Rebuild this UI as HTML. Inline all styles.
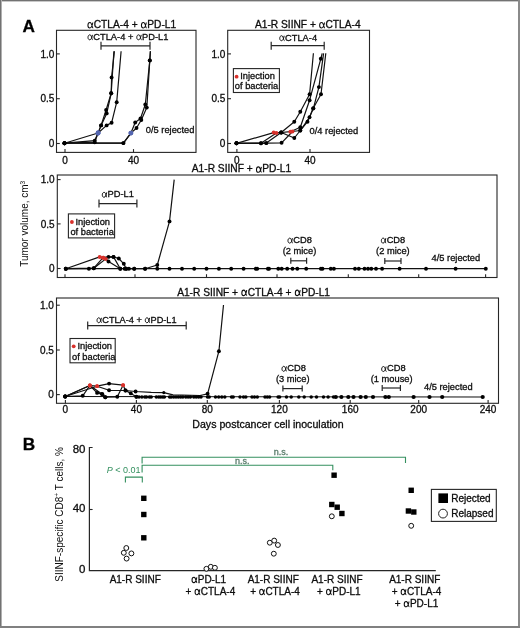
<!DOCTYPE html>
<html><head><meta charset="utf-8"><style>
html,body{margin:0;padding:0;background:#fff;}
svg{display:block;will-change:transform;}
text{font-family:"Liberation Sans", sans-serif;}
</style></head><body>
<svg width="520" height="628" viewBox="0 0 520 628" font-family='"Liberation Sans", sans-serif'>
<rect x="0" y="0" width="520" height="628" fill="#fff"/>
<text x="22.4" y="32.2" font-size="17.2" text-anchor="start" fill="#000" stroke="#000" stroke-width="0.3" font-weight="bold">A</text>
<text x="22.8" y="449.8" font-size="17.2" text-anchor="start" fill="#000" stroke="#000" stroke-width="0.3" font-weight="bold">B</text>
<rect x="56.5" y="30.3" width="139.5" height="122.10000000000001" fill="none" stroke="#262626" stroke-width="1.1"/>
<line x1="56.5" y1="53.9" x2="59.8" y2="53.9" stroke="#262626" stroke-width="1.1"/>
<text x="54.3" y="57.5" font-size="10" text-anchor="end" fill="#0d0d0d" stroke="#0d0d0d" stroke-width="0.3" >1.0</text>
<line x1="56.5" y1="98.7" x2="59.8" y2="98.7" stroke="#262626" stroke-width="1.1"/>
<text x="54.3" y="102.3" font-size="10" text-anchor="end" fill="#0d0d0d" stroke="#0d0d0d" stroke-width="0.3" >0.5</text>
<line x1="56.5" y1="143.5" x2="59.8" y2="143.5" stroke="#262626" stroke-width="1.1"/>
<text x="54.3" y="147.1" font-size="10" text-anchor="end" fill="#0d0d0d" stroke="#0d0d0d" stroke-width="0.3" >0</text>
<line x1="65" y1="149.1" x2="65" y2="152.4" stroke="#262626" stroke-width="1.1"/>
<text x="65" y="163.7" font-size="10" text-anchor="middle" fill="#0d0d0d" stroke="#0d0d0d" stroke-width="0.3" >0</text>
<line x1="133.5" y1="149.1" x2="133.5" y2="152.4" stroke="#262626" stroke-width="1.1"/>
<text x="133.5" y="163.7" font-size="10" text-anchor="middle" fill="#0d0d0d" stroke="#0d0d0d" stroke-width="0.3" >40</text>
<path transform="translate(87.33,27.8) scale(10.2)" d="M0.5385,-0.52 C0.4863,-0.22 0.3993,0.012 0.2427,0.012 C0.1209,0.012 0.06,-0.11 0.06,-0.25 C0.06,-0.4 0.1383,-0.525 0.2601,-0.525 C0.3993,-0.525 0.4428,-0.3 0.4863,-0.1 C0.5037,-0.03 0.5298,0.005 0.5733,0.005" fill="none" stroke="#0d0d0d" stroke-width="0.105"/>
<text x="93.76" y="27.8" font-size="10.2" fill="#0d0d0d" stroke="#0d0d0d" stroke-width="0.3" xml:space="preserve">CTLA-4 + </text>
<path transform="translate(140.83,27.8) scale(10.2)" d="M0.5385,-0.52 C0.4863,-0.22 0.3993,0.012 0.2427,0.012 C0.1209,0.012 0.06,-0.11 0.06,-0.25 C0.06,-0.4 0.1383,-0.525 0.2601,-0.525 C0.3993,-0.525 0.4428,-0.3 0.4863,-0.1 C0.5037,-0.03 0.5298,0.005 0.5733,0.005" fill="none" stroke="#0d0d0d" stroke-width="0.105"/>
<text x="147.26" y="27.8" font-size="10.2" fill="#0d0d0d" stroke="#0d0d0d" stroke-width="0.3" xml:space="preserve">PD-L1</text>
<path transform="translate(87.44,39.7) scale(9.3)" d="M0.5385,-0.52 C0.4863,-0.22 0.3993,0.012 0.2427,0.012 C0.1209,0.012 0.06,-0.11 0.06,-0.25 C0.06,-0.4 0.1383,-0.525 0.2601,-0.525 C0.3993,-0.525 0.4428,-0.3 0.4863,-0.1 C0.5037,-0.03 0.5298,0.005 0.5733,0.005" fill="none" stroke="#0d0d0d" stroke-width="0.105"/>
<text x="93.30" y="39.7" font-size="9.3" fill="#0d0d0d" stroke="#0d0d0d" stroke-width="0.3" xml:space="preserve">CTLA-4 + </text>
<path transform="translate(136.22,39.7) scale(9.3)" d="M0.5385,-0.52 C0.4863,-0.22 0.3993,0.012 0.2427,0.012 C0.1209,0.012 0.06,-0.11 0.06,-0.25 C0.06,-0.4 0.1383,-0.525 0.2601,-0.525 C0.3993,-0.525 0.4428,-0.3 0.4863,-0.1 C0.5037,-0.03 0.5298,0.005 0.5733,0.005" fill="none" stroke="#0d0d0d" stroke-width="0.105"/>
<text x="142.08" y="39.7" font-size="9.3" fill="#0d0d0d" stroke="#0d0d0d" stroke-width="0.3" xml:space="preserve">PD-L1</text>
<line x1="101" y1="45.8" x2="150" y2="45.8" stroke="#262626" stroke-width="1.2"/>
<line x1="101" y1="41.8" x2="101" y2="49.8" stroke="#262626" stroke-width="1.2"/>
<line x1="150" y1="41.8" x2="150" y2="49.8" stroke="#262626" stroke-width="1.2"/>
<text x="145.8" y="132.6" font-size="9.3" text-anchor="start" fill="#0d0d0d" stroke="#0d0d0d" stroke-width="0.3" >0/5 rejected</text>
<polyline points="64.5,143.2 94.7,140.6 98.1,133 101.1,125.4 106.7,113.4 111.2,93.3 111.6,77.4 114.4,51.2" fill="none" stroke="#111" stroke-width="1.2" stroke-linejoin="round"/>
<polyline points="64.5,143.2 98.1,133 101.1,125.4 106.1,110 111.2,93.3 113.9,51.2" fill="none" stroke="#111" stroke-width="1.2" stroke-linejoin="round"/>
<polyline points="64.5,143.2 94.7,142.2 98.1,133 106.6,125.4 111.6,122.8 116.7,102.2 121.1,51.2" fill="none" stroke="#111" stroke-width="1.2" stroke-linejoin="round"/>
<polyline points="64.5,143.2 123.4,143.1 130.9,133.1 135.2,122.5 140.5,118.5 145.3,104.5 149.8,60.4 150.4,51.2" fill="none" stroke="#111" stroke-width="1.2" stroke-linejoin="round"/>
<polyline points="64.5,143.2 123.4,143.1 130.9,133.1 136.5,128 141.3,120 146.8,107.6 149.8,60.4 150.4,51.2" fill="none" stroke="#111" stroke-width="1.2" stroke-linejoin="round"/>
<circle cx="64.5" cy="143.2" r="1.95" fill="#000"/>
<circle cx="94.7" cy="140.6" r="1.95" fill="#000"/>
<circle cx="98.1" cy="133" r="2.4" fill="#5566b0"/>
<circle cx="101.1" cy="125.4" r="1.95" fill="#000"/>
<circle cx="106.7" cy="113.4" r="1.95" fill="#000"/>
<circle cx="111.2" cy="93.3" r="1.95" fill="#000"/>
<circle cx="111.6" cy="77.4" r="1.95" fill="#000"/>
<circle cx="64.5" cy="143.2" r="1.95" fill="#000"/>
<circle cx="98.1" cy="133" r="2.4" fill="#5566b0"/>
<circle cx="101.1" cy="125.4" r="1.95" fill="#000"/>
<circle cx="106.1" cy="110" r="1.95" fill="#000"/>
<circle cx="111.2" cy="93.3" r="1.95" fill="#000"/>
<circle cx="64.5" cy="143.2" r="1.95" fill="#000"/>
<circle cx="94.7" cy="142.2" r="1.95" fill="#000"/>
<circle cx="98.1" cy="133" r="2.4" fill="#5566b0"/>
<circle cx="106.6" cy="125.4" r="1.95" fill="#000"/>
<circle cx="111.6" cy="122.8" r="1.95" fill="#000"/>
<circle cx="116.7" cy="102.2" r="1.95" fill="#000"/>
<circle cx="64.5" cy="143.2" r="1.95" fill="#000"/>
<circle cx="123.4" cy="143.1" r="1.95" fill="#000"/>
<circle cx="130.9" cy="133.1" r="2.4" fill="#5566b0"/>
<circle cx="135.2" cy="122.5" r="1.95" fill="#000"/>
<circle cx="140.5" cy="118.5" r="1.95" fill="#000"/>
<circle cx="145.3" cy="104.5" r="1.95" fill="#000"/>
<circle cx="149.8" cy="60.4" r="1.95" fill="#000"/>
<circle cx="64.5" cy="143.2" r="1.95" fill="#000"/>
<circle cx="123.4" cy="143.1" r="1.95" fill="#000"/>
<circle cx="130.9" cy="133.1" r="2.4" fill="#5566b0"/>
<circle cx="136.5" cy="128" r="1.95" fill="#000"/>
<circle cx="141.3" cy="120" r="1.95" fill="#000"/>
<circle cx="146.8" cy="107.6" r="1.95" fill="#000"/>
<circle cx="149.8" cy="60.4" r="1.95" fill="#000"/>
<rect x="227.7" y="30.3" width="141.8" height="122.10000000000001" fill="none" stroke="#262626" stroke-width="1.1"/>
<line x1="227.7" y1="53.9" x2="231.0" y2="53.9" stroke="#262626" stroke-width="1.1"/>
<text x="225.4" y="57.5" font-size="10" text-anchor="end" fill="#0d0d0d" stroke="#0d0d0d" stroke-width="0.3" >1.0</text>
<line x1="227.7" y1="98.7" x2="231.0" y2="98.7" stroke="#262626" stroke-width="1.1"/>
<text x="225.4" y="102.3" font-size="10" text-anchor="end" fill="#0d0d0d" stroke="#0d0d0d" stroke-width="0.3" >0.5</text>
<line x1="227.7" y1="143.5" x2="231.0" y2="143.5" stroke="#262626" stroke-width="1.1"/>
<text x="225.4" y="147.1" font-size="10" text-anchor="end" fill="#0d0d0d" stroke="#0d0d0d" stroke-width="0.3" >0</text>
<line x1="236.9" y1="149.1" x2="236.9" y2="152.4" stroke="#262626" stroke-width="1.1"/>
<text x="236.9" y="163.7" font-size="10" text-anchor="middle" fill="#0d0d0d" stroke="#0d0d0d" stroke-width="0.3" >0</text>
<line x1="310" y1="149.1" x2="310" y2="152.4" stroke="#262626" stroke-width="1.1"/>
<text x="310" y="163.7" font-size="10" text-anchor="middle" fill="#0d0d0d" stroke="#0d0d0d" stroke-width="0.3" >40</text>
<text x="254.98" y="27.8" font-size="10.2" fill="#0d0d0d" stroke="#0d0d0d" stroke-width="0.3" xml:space="preserve">A1-R SIINF + </text>
<path transform="translate(319.05,27.8) scale(10.2)" d="M0.5385,-0.52 C0.4863,-0.22 0.3993,0.012 0.2427,0.012 C0.1209,0.012 0.06,-0.11 0.06,-0.25 C0.06,-0.4 0.1383,-0.525 0.2601,-0.525 C0.3993,-0.525 0.4428,-0.3 0.4863,-0.1 C0.5037,-0.03 0.5298,0.005 0.5733,0.005" fill="none" stroke="#0d0d0d" stroke-width="0.105"/>
<text x="325.48" y="27.8" font-size="10.2" fill="#0d0d0d" stroke="#0d0d0d" stroke-width="0.3" xml:space="preserve">CTLA-4</text>
<path transform="translate(279.19,40.6) scale(9.3)" d="M0.5385,-0.52 C0.4863,-0.22 0.3993,0.012 0.2427,0.012 C0.1209,0.012 0.06,-0.11 0.06,-0.25 C0.06,-0.4 0.1383,-0.525 0.2601,-0.525 C0.3993,-0.525 0.4428,-0.3 0.4863,-0.1 C0.5037,-0.03 0.5298,0.005 0.5733,0.005" fill="none" stroke="#0d0d0d" stroke-width="0.105"/>
<text x="285.05" y="40.6" font-size="9.3" fill="#0d0d0d" stroke="#0d0d0d" stroke-width="0.3" xml:space="preserve">CTLA-4</text>
<line x1="271.2" y1="45.7" x2="324.2" y2="45.7" stroke="#262626" stroke-width="1.2"/>
<line x1="271.2" y1="41.7" x2="271.2" y2="49.7" stroke="#262626" stroke-width="1.2"/>
<line x1="324.2" y1="41.7" x2="324.2" y2="49.7" stroke="#262626" stroke-width="1.2"/>
<text x="309.6" y="133.7" font-size="9.3" text-anchor="start" fill="#0d0d0d" stroke="#0d0d0d" stroke-width="0.3" >0/4 rejected</text>
<rect x="233.4" y="68.6" width="45.99999999999997" height="23.900000000000006" fill="none" stroke="#262626" stroke-width="1.1"/>
<circle cx="236.6" cy="76.7" r="1.9" fill="#d9312b"/>
<text x="240.2" y="79.0" font-size="9.3" text-anchor="start" fill="#0d0d0d" stroke="#0d0d0d" stroke-width="0.3" >Injection</text>
<text x="234.8" y="89.0" font-size="9.3" text-anchor="start" fill="#0d0d0d" stroke="#0d0d0d" stroke-width="0.3" >of bacteria</text>
<polyline points="236.5,143.3 273.7,132.6 281.2,132.5 294.3,121.7 300.3,111.7 309.6,94.2 313.4,53.3" fill="none" stroke="#111" stroke-width="1.2" stroke-linejoin="round"/>
<polyline points="236.5,143.3 261,143.3 266.3,143.1 281.2,132.5 290.4,131.7 300.3,127.3 309.6,100.2 320.8,58.8 322.2,53.3" fill="none" stroke="#111" stroke-width="1.2" stroke-linejoin="round"/>
<polyline points="236.5,143.3 266.3,143.1 281.6,142.8 292.5,131.5 300.3,130.5 307.5,121.7 313.4,108.3 318.9,87.1 323.6,53.3" fill="none" stroke="#111" stroke-width="1.2" stroke-linejoin="round"/>
<polyline points="236.5,143.3 261,143.3 276.4,133 281.2,132.5 294.3,138 300.3,130.5 309.5,117.3 313.1,108.5 321,94.2 325.8,53.3" fill="none" stroke="#111" stroke-width="1.2" stroke-linejoin="round"/>
<circle cx="236.5" cy="143.3" r="1.95" fill="#000"/>
<circle cx="273.7" cy="132.6" r="2.0" fill="#d9312b"/>
<circle cx="281.2" cy="132.5" r="1.95" fill="#000"/>
<circle cx="294.3" cy="121.7" r="1.95" fill="#000"/>
<circle cx="300.3" cy="111.7" r="1.95" fill="#000"/>
<circle cx="309.6" cy="94.2" r="1.95" fill="#000"/>
<circle cx="236.5" cy="143.3" r="1.95" fill="#000"/>
<circle cx="261" cy="143.3" r="1.95" fill="#000"/>
<circle cx="266.3" cy="143.1" r="1.95" fill="#000"/>
<circle cx="281.2" cy="132.5" r="1.95" fill="#000"/>
<circle cx="290.4" cy="131.7" r="2.0" fill="#d9312b"/>
<circle cx="300.3" cy="127.3" r="1.95" fill="#000"/>
<circle cx="309.6" cy="100.2" r="1.95" fill="#000"/>
<circle cx="320.8" cy="58.8" r="1.95" fill="#000"/>
<circle cx="236.5" cy="143.3" r="1.95" fill="#000"/>
<circle cx="266.3" cy="143.1" r="1.95" fill="#000"/>
<circle cx="281.6" cy="142.8" r="1.95" fill="#000"/>
<circle cx="292.5" cy="131.5" r="2.0" fill="#d9312b"/>
<circle cx="300.3" cy="130.5" r="1.95" fill="#000"/>
<circle cx="307.5" cy="121.7" r="1.95" fill="#000"/>
<circle cx="313.4" cy="108.3" r="1.95" fill="#000"/>
<circle cx="318.9" cy="87.1" r="1.95" fill="#000"/>
<circle cx="236.5" cy="143.3" r="1.95" fill="#000"/>
<circle cx="261" cy="143.3" r="1.95" fill="#000"/>
<circle cx="276.4" cy="133" r="2.0" fill="#d9312b"/>
<circle cx="281.2" cy="132.5" r="1.95" fill="#000"/>
<circle cx="294.3" cy="138" r="1.95" fill="#000"/>
<circle cx="300.3" cy="130.5" r="1.95" fill="#000"/>
<circle cx="309.5" cy="117.3" r="1.95" fill="#000"/>
<circle cx="313.1" cy="108.5" r="1.95" fill="#000"/>
<circle cx="321" cy="94.2" r="1.95" fill="#000"/>
<rect x="57.3" y="175" width="439.7" height="102.5" fill="none" stroke="#262626" stroke-width="1.1"/>
<line x1="57.3" y1="179.6" x2="60.6" y2="179.6" stroke="#262626" stroke-width="1.1"/>
<text x="54.6" y="183.2" font-size="10" text-anchor="end" fill="#0d0d0d" stroke="#0d0d0d" stroke-width="0.3" >1.0</text>
<line x1="57.3" y1="223.9" x2="60.6" y2="223.9" stroke="#262626" stroke-width="1.1"/>
<text x="54.6" y="227.5" font-size="10" text-anchor="end" fill="#0d0d0d" stroke="#0d0d0d" stroke-width="0.3" >0.5</text>
<line x1="57.3" y1="268.5" x2="60.6" y2="268.5" stroke="#262626" stroke-width="1.1"/>
<text x="54.6" y="272.1" font-size="10" text-anchor="end" fill="#0d0d0d" stroke="#0d0d0d" stroke-width="0.3" >0</text>
<line x1="65" y1="274.2" x2="65" y2="277.5" stroke="#262626" stroke-width="1.1"/>
<line x1="135" y1="274.2" x2="135" y2="277.5" stroke="#262626" stroke-width="1.1"/>
<line x1="206.5" y1="274.2" x2="206.5" y2="277.5" stroke="#262626" stroke-width="1.1"/>
<line x1="277" y1="274.2" x2="277" y2="277.5" stroke="#262626" stroke-width="1.1"/>
<line x1="348.3" y1="274.2" x2="348.3" y2="277.5" stroke="#262626" stroke-width="1.1"/>
<line x1="418.7" y1="274.2" x2="418.7" y2="277.5" stroke="#262626" stroke-width="1.1"/>
<line x1="485.6" y1="274.2" x2="485.6" y2="277.5" stroke="#262626" stroke-width="1.1"/>
<text x="191.80" y="172.2" font-size="10.2" fill="#0d0d0d" stroke="#0d0d0d" stroke-width="0.3" xml:space="preserve">A1-R SIINF + </text>
<path transform="translate(255.87,172.2) scale(10.2)" d="M0.5385,-0.52 C0.4863,-0.22 0.3993,0.012 0.2427,0.012 C0.1209,0.012 0.06,-0.11 0.06,-0.25 C0.06,-0.4 0.1383,-0.525 0.2601,-0.525 C0.3993,-0.525 0.4428,-0.3 0.4863,-0.1 C0.5037,-0.03 0.5298,0.005 0.5733,0.005" fill="none" stroke="#0d0d0d" stroke-width="0.105"/>
<text x="262.29" y="172.2" font-size="10.2" fill="#0d0d0d" stroke="#0d0d0d" stroke-width="0.3" xml:space="preserve">PD-L1</text>
<path transform="translate(101.73,197.2) scale(9.3)" d="M0.5385,-0.52 C0.4863,-0.22 0.3993,0.012 0.2427,0.012 C0.1209,0.012 0.06,-0.11 0.06,-0.25 C0.06,-0.4 0.1383,-0.525 0.2601,-0.525 C0.3993,-0.525 0.4428,-0.3 0.4863,-0.1 C0.5037,-0.03 0.5298,0.005 0.5733,0.005" fill="none" stroke="#0d0d0d" stroke-width="0.105"/>
<text x="107.59" y="197.2" font-size="9.3" fill="#0d0d0d" stroke="#0d0d0d" stroke-width="0.3" xml:space="preserve">PD-L1</text>
<line x1="99" y1="203.6" x2="136.9" y2="203.6" stroke="#262626" stroke-width="1.2"/>
<line x1="99" y1="199.6" x2="99" y2="207.6" stroke="#262626" stroke-width="1.2"/>
<line x1="136.9" y1="199.6" x2="136.9" y2="207.6" stroke="#262626" stroke-width="1.2"/>
<rect x="68.4" y="213.9" width="46.19999999999999" height="24.0" fill="none" stroke="#262626" stroke-width="1.1"/>
<circle cx="71.9" cy="222" r="1.9" fill="#d9312b"/>
<text x="75.4" y="224.6" font-size="9.3" text-anchor="start" fill="#0d0d0d" stroke="#0d0d0d" stroke-width="0.3" >Injection</text>
<text x="70.4" y="235.2" font-size="9.3" text-anchor="start" fill="#0d0d0d" stroke="#0d0d0d" stroke-width="0.3" >of bacteria</text>
<path transform="translate(287.41,243.0) scale(9.3)" d="M0.5385,-0.52 C0.4863,-0.22 0.3993,0.012 0.2427,0.012 C0.1209,0.012 0.06,-0.11 0.06,-0.25 C0.06,-0.4 0.1383,-0.525 0.2601,-0.525 C0.3993,-0.525 0.4428,-0.3 0.4863,-0.1 C0.5037,-0.03 0.5298,0.005 0.5733,0.005" fill="none" stroke="#0d0d0d" stroke-width="0.105"/>
<text x="293.27" y="243.0" font-size="9.3" fill="#0d0d0d" stroke="#0d0d0d" stroke-width="0.3" xml:space="preserve">CD8</text>
<text x="282.71" y="253.8" font-size="9.3" fill="#0d0d0d" stroke="#0d0d0d" stroke-width="0.3" xml:space="preserve">(2 mice)</text>
<line x1="290.8" y1="260.8" x2="306.6" y2="260.8" stroke="#262626" stroke-width="1.2"/>
<line x1="290.8" y1="257.8" x2="290.8" y2="263.8" stroke="#262626" stroke-width="1.2"/>
<line x1="306.6" y1="257.8" x2="306.6" y2="263.8" stroke="#262626" stroke-width="1.2"/>
<path transform="translate(380.81,243.0) scale(9.3)" d="M0.5385,-0.52 C0.4863,-0.22 0.3993,0.012 0.2427,0.012 C0.1209,0.012 0.06,-0.11 0.06,-0.25 C0.06,-0.4 0.1383,-0.525 0.2601,-0.525 C0.3993,-0.525 0.4428,-0.3 0.4863,-0.1 C0.5037,-0.03 0.5298,0.005 0.5733,0.005" fill="none" stroke="#0d0d0d" stroke-width="0.105"/>
<text x="386.67" y="243.0" font-size="9.3" fill="#0d0d0d" stroke="#0d0d0d" stroke-width="0.3" xml:space="preserve">CD8</text>
<text x="376.11" y="253.8" font-size="9.3" fill="#0d0d0d" stroke="#0d0d0d" stroke-width="0.3" xml:space="preserve">(2 mice)</text>
<line x1="384.8" y1="261" x2="401" y2="261" stroke="#262626" stroke-width="1.2"/>
<line x1="384.8" y1="258.0" x2="384.8" y2="264.0" stroke="#262626" stroke-width="1.2"/>
<line x1="401" y1="258.0" x2="401" y2="264.0" stroke="#262626" stroke-width="1.2"/>
<text x="431.6" y="261.0" font-size="9.3" text-anchor="start" fill="#0d0d0d" stroke="#0d0d0d" stroke-width="0.3" >4/5 rejected</text>
<polyline points="65.8,268.7 99.7,256.9 103.1,257.7 113.5,256.9 118.8,258.5 123.8,263.8 126.2,268.7" fill="none" stroke="#111" stroke-width="1.2" stroke-linejoin="round"/>
<polyline points="65.8,268.7 88.9,268.7 93.8,268.2 103.1,257.7 108.5,256.9 113.5,256.9 120.3,268.7" fill="none" stroke="#111" stroke-width="1.2" stroke-linejoin="round"/>
<polyline points="65.8,268.7 93.8,268.2 105.8,258.9 108.5,261.5 120.3,268.7" fill="none" stroke="#111" stroke-width="1.2" stroke-linejoin="round"/>
<polyline points="126.2,268.7 134.2,268.7 145.1,268.7 157.3,265 169.5,221.4 174.2,179.6" fill="none" stroke="#111" stroke-width="1.2" stroke-linejoin="round"/>
<polyline points="65.8,268.7 485.8,268.7" fill="none" stroke="#111" stroke-width="1.2" stroke-linejoin="round"/>
<circle cx="65.8" cy="268.7" r="1.95" fill="#000"/>
<circle cx="99.7" cy="256.9" r="2.0" fill="#d9312b"/>
<circle cx="103.1" cy="257.7" r="2.0" fill="#d9312b"/>
<circle cx="113.5" cy="256.9" r="1.95" fill="#000"/>
<circle cx="118.8" cy="258.5" r="1.95" fill="#000"/>
<circle cx="123.8" cy="263.8" r="1.95" fill="#000"/>
<circle cx="126.2" cy="268.7" r="1.95" fill="#000"/>
<circle cx="65.8" cy="268.7" r="1.95" fill="#000"/>
<circle cx="88.9" cy="268.7" r="1.95" fill="#000"/>
<circle cx="93.8" cy="268.2" r="1.95" fill="#000"/>
<circle cx="103.1" cy="257.7" r="2.0" fill="#d9312b"/>
<circle cx="108.5" cy="256.9" r="1.95" fill="#000"/>
<circle cx="113.5" cy="256.9" r="1.95" fill="#000"/>
<circle cx="120.3" cy="268.7" r="1.95" fill="#000"/>
<circle cx="65.8" cy="268.7" r="1.95" fill="#000"/>
<circle cx="93.8" cy="268.2" r="1.95" fill="#000"/>
<circle cx="105.8" cy="258.9" r="2.0" fill="#d9312b"/>
<circle cx="108.5" cy="261.5" r="1.95" fill="#000"/>
<circle cx="120.3" cy="268.7" r="1.95" fill="#000"/>
<circle cx="126.2" cy="268.7" r="1.95" fill="#000"/>
<circle cx="134.2" cy="268.7" r="1.95" fill="#000"/>
<circle cx="145.1" cy="268.7" r="1.95" fill="#000"/>
<circle cx="157.3" cy="265" r="1.95" fill="#000"/>
<circle cx="169.5" cy="221.4" r="1.95" fill="#000"/>
<circle cx="145.1" cy="268.7" r="1.95" fill="#000"/>
<circle cx="157.3" cy="268.7" r="1.95" fill="#000"/>
<circle cx="169.5" cy="268.7" r="1.95" fill="#000"/>
<circle cx="182" cy="268.7" r="1.95" fill="#000"/>
<circle cx="194.2" cy="268.7" r="1.95" fill="#000"/>
<circle cx="206.5" cy="268.7" r="1.95" fill="#000"/>
<circle cx="218.9" cy="268.7" r="1.95" fill="#000"/>
<circle cx="231.2" cy="268.7" r="1.95" fill="#000"/>
<circle cx="243.6" cy="268.7" r="1.95" fill="#000"/>
<circle cx="255.8" cy="268.7" r="1.95" fill="#000"/>
<circle cx="257.2" cy="268.7" r="1.95" fill="#000"/>
<circle cx="267.9" cy="268.7" r="1.95" fill="#000"/>
<circle cx="269" cy="268.7" r="1.95" fill="#000"/>
<circle cx="278.3" cy="268.7" r="1.95" fill="#000"/>
<circle cx="281.7" cy="268.7" r="1.95" fill="#000"/>
<circle cx="287.2" cy="268.7" r="1.95" fill="#000"/>
<circle cx="292.5" cy="268.7" r="1.95" fill="#000"/>
<circle cx="297.3" cy="268.7" r="1.95" fill="#000"/>
<circle cx="306.2" cy="268.7" r="1.95" fill="#000"/>
<circle cx="320.9" cy="268.7" r="1.95" fill="#000"/>
<circle cx="322.5" cy="268.7" r="1.95" fill="#000"/>
<circle cx="330.8" cy="268.7" r="1.95" fill="#000"/>
<circle cx="333.9" cy="268.7" r="1.95" fill="#000"/>
<circle cx="355" cy="268.7" r="1.95" fill="#000"/>
<circle cx="358.8" cy="268.7" r="1.95" fill="#000"/>
<circle cx="364.5" cy="268.7" r="1.95" fill="#000"/>
<circle cx="368" cy="268.7" r="1.95" fill="#000"/>
<circle cx="371.3" cy="268.7" r="1.95" fill="#000"/>
<circle cx="376" cy="268.7" r="1.95" fill="#000"/>
<circle cx="382.1" cy="268.7" r="1.95" fill="#000"/>
<circle cx="399.6" cy="268.7" r="1.95" fill="#000"/>
<circle cx="426" cy="268.7" r="1.95" fill="#000"/>
<circle cx="455.6" cy="268.7" r="1.95" fill="#000"/>
<circle cx="485.8" cy="268.7" r="1.95" fill="#000"/>
<circle cx="124.6" cy="268.7" r="1.95" fill="#000"/>
<circle cx="128.9" cy="268.7" r="1.95" fill="#000"/>
<circle cx="134.2" cy="268.7" r="1.95" fill="#000"/>
<text transform="translate(28.3,266.8) rotate(-90)" font-size="10" fill="#0d0d0d">Tumor volume, cm<tspan font-size="6.5" dy="-3.5">3</tspan></text>
<rect x="56.5" y="298" width="442.0" height="105.30000000000001" fill="none" stroke="#262626" stroke-width="1.1"/>
<line x1="56.5" y1="305.2" x2="59.8" y2="305.2" stroke="#262626" stroke-width="1.1"/>
<text x="53.8" y="308.8" font-size="10" text-anchor="end" fill="#0d0d0d" stroke="#0d0d0d" stroke-width="0.3" >1.0</text>
<line x1="56.5" y1="350" x2="59.8" y2="350" stroke="#262626" stroke-width="1.1"/>
<text x="53.8" y="353.6" font-size="10" text-anchor="end" fill="#0d0d0d" stroke="#0d0d0d" stroke-width="0.3" >0.5</text>
<line x1="56.5" y1="394.6" x2="59.8" y2="394.6" stroke="#262626" stroke-width="1.1"/>
<text x="53.8" y="398.20000000000005" font-size="10" text-anchor="end" fill="#0d0d0d" stroke="#0d0d0d" stroke-width="0.3" >0</text>
<line x1="65.4" y1="400" x2="65.4" y2="403.3" stroke="#262626" stroke-width="1.1"/>
<text x="65.4" y="412.7" font-size="10" text-anchor="middle" fill="#0d0d0d" stroke="#0d0d0d" stroke-width="0.3" >0</text>
<line x1="136.4" y1="400" x2="136.4" y2="403.3" stroke="#262626" stroke-width="1.1"/>
<text x="136.4" y="412.7" font-size="10" text-anchor="middle" fill="#0d0d0d" stroke="#0d0d0d" stroke-width="0.3" >40</text>
<line x1="207.3" y1="400" x2="207.3" y2="403.3" stroke="#262626" stroke-width="1.1"/>
<text x="207.3" y="412.7" font-size="10" text-anchor="middle" fill="#0d0d0d" stroke="#0d0d0d" stroke-width="0.3" >80</text>
<line x1="279.4" y1="400" x2="279.4" y2="403.3" stroke="#262626" stroke-width="1.1"/>
<text x="279.4" y="412.7" font-size="10" text-anchor="middle" fill="#0d0d0d" stroke="#0d0d0d" stroke-width="0.3" >120</text>
<line x1="350.2" y1="400" x2="350.2" y2="403.3" stroke="#262626" stroke-width="1.1"/>
<text x="350.2" y="412.7" font-size="10" text-anchor="middle" fill="#0d0d0d" stroke="#0d0d0d" stroke-width="0.3" >160</text>
<line x1="418.7" y1="400" x2="418.7" y2="403.3" stroke="#262626" stroke-width="1.1"/>
<text x="418.7" y="412.7" font-size="10" text-anchor="middle" fill="#0d0d0d" stroke="#0d0d0d" stroke-width="0.3" >200</text>
<line x1="488.1" y1="400" x2="488.1" y2="403.3" stroke="#262626" stroke-width="1.1"/>
<text x="488.1" y="412.7" font-size="10" text-anchor="middle" fill="#0d0d0d" stroke="#0d0d0d" stroke-width="0.3" >240</text>
<text x="177.15" y="295.5" font-size="10.2" fill="#0d0d0d" stroke="#0d0d0d" stroke-width="0.3" xml:space="preserve">A1-R SIINF + </text>
<path transform="translate(241.22,295.5) scale(10.2)" d="M0.5385,-0.52 C0.4863,-0.22 0.3993,0.012 0.2427,0.012 C0.1209,0.012 0.06,-0.11 0.06,-0.25 C0.06,-0.4 0.1383,-0.525 0.2601,-0.525 C0.3993,-0.525 0.4428,-0.3 0.4863,-0.1 C0.5037,-0.03 0.5298,0.005 0.5733,0.005" fill="none" stroke="#0d0d0d" stroke-width="0.105"/>
<text x="247.64" y="295.5" font-size="10.2" fill="#0d0d0d" stroke="#0d0d0d" stroke-width="0.3" xml:space="preserve">CTLA-4 + </text>
<path transform="translate(294.72,295.5) scale(10.2)" d="M0.5385,-0.52 C0.4863,-0.22 0.3993,0.012 0.2427,0.012 C0.1209,0.012 0.06,-0.11 0.06,-0.25 C0.06,-0.4 0.1383,-0.525 0.2601,-0.525 C0.3993,-0.525 0.4428,-0.3 0.4863,-0.1 C0.5037,-0.03 0.5298,0.005 0.5733,0.005" fill="none" stroke="#0d0d0d" stroke-width="0.105"/>
<text x="301.14" y="295.5" font-size="10.2" fill="#0d0d0d" stroke="#0d0d0d" stroke-width="0.3" xml:space="preserve">PD-L1</text>
<path transform="translate(96.47,322.6) scale(9.2)" d="M0.5385,-0.52 C0.4863,-0.22 0.3993,0.012 0.2427,0.012 C0.1209,0.012 0.06,-0.11 0.06,-0.25 C0.06,-0.4 0.1383,-0.525 0.2601,-0.525 C0.3993,-0.525 0.4428,-0.3 0.4863,-0.1 C0.5037,-0.03 0.5298,0.005 0.5733,0.005" fill="none" stroke="#0d0d0d" stroke-width="0.105"/>
<text x="102.27" y="322.6" font-size="9.2" fill="#0d0d0d" stroke="#0d0d0d" stroke-width="0.3" xml:space="preserve">CTLA-4 + </text>
<path transform="translate(144.73,322.6) scale(9.2)" d="M0.5385,-0.52 C0.4863,-0.22 0.3993,0.012 0.2427,0.012 C0.1209,0.012 0.06,-0.11 0.06,-0.25 C0.06,-0.4 0.1383,-0.525 0.2601,-0.525 C0.3993,-0.525 0.4428,-0.3 0.4863,-0.1 C0.5037,-0.03 0.5298,0.005 0.5733,0.005" fill="none" stroke="#0d0d0d" stroke-width="0.105"/>
<text x="150.52" y="322.6" font-size="9.2" fill="#0d0d0d" stroke="#0d0d0d" stroke-width="0.3" xml:space="preserve">PD-L1</text>
<line x1="87.7" y1="325.6" x2="186.2" y2="325.6" stroke="#262626" stroke-width="1.2"/>
<line x1="87.7" y1="321.6" x2="87.7" y2="329.6" stroke="#262626" stroke-width="1.2"/>
<line x1="186.2" y1="321.6" x2="186.2" y2="329.6" stroke="#262626" stroke-width="1.2"/>
<rect x="70" y="338.5" width="45.2" height="24.30000000000001" fill="none" stroke="#262626" stroke-width="1.1"/>
<circle cx="73.7" cy="346.3" r="1.9" fill="#d9312b"/>
<text x="77.4" y="349.3" font-size="9.3" text-anchor="start" fill="#0d0d0d" stroke="#0d0d0d" stroke-width="0.3" >Injection</text>
<text x="72.0" y="360.2" font-size="9.3" text-anchor="start" fill="#0d0d0d" stroke="#0d0d0d" stroke-width="0.3" >of bacteria</text>
<path transform="translate(281.41,371.2) scale(9.3)" d="M0.5385,-0.52 C0.4863,-0.22 0.3993,0.012 0.2427,0.012 C0.1209,0.012 0.06,-0.11 0.06,-0.25 C0.06,-0.4 0.1383,-0.525 0.2601,-0.525 C0.3993,-0.525 0.4428,-0.3 0.4863,-0.1 C0.5037,-0.03 0.5298,0.005 0.5733,0.005" fill="none" stroke="#0d0d0d" stroke-width="0.105"/>
<text x="287.27" y="371.2" font-size="9.3" fill="#0d0d0d" stroke="#0d0d0d" stroke-width="0.3" xml:space="preserve">CD8</text>
<text x="275.91" y="382" font-size="9.3" fill="#0d0d0d" stroke="#0d0d0d" stroke-width="0.3" xml:space="preserve">(3 mice)</text>
<line x1="282.9" y1="388.6" x2="302.2" y2="388.6" stroke="#262626" stroke-width="1.2"/>
<line x1="282.9" y1="385.6" x2="282.9" y2="391.6" stroke="#262626" stroke-width="1.2"/>
<line x1="302.2" y1="385.6" x2="302.2" y2="391.6" stroke="#262626" stroke-width="1.2"/>
<path transform="translate(381.11,371.4) scale(9.3)" d="M0.5385,-0.52 C0.4863,-0.22 0.3993,0.012 0.2427,0.012 C0.1209,0.012 0.06,-0.11 0.06,-0.25 C0.06,-0.4 0.1383,-0.525 0.2601,-0.525 C0.3993,-0.525 0.4428,-0.3 0.4863,-0.1 C0.5037,-0.03 0.5298,0.005 0.5733,0.005" fill="none" stroke="#0d0d0d" stroke-width="0.105"/>
<text x="386.97" y="371.4" font-size="9.3" fill="#0d0d0d" stroke="#0d0d0d" stroke-width="0.3" xml:space="preserve">CD8</text>
<text x="370.77" y="381.7" font-size="9.3" fill="#0d0d0d" stroke="#0d0d0d" stroke-width="0.3" xml:space="preserve">(1 mouse)</text>
<line x1="382.2" y1="388" x2="400.4" y2="388" stroke="#262626" stroke-width="1.2"/>
<line x1="382.2" y1="385.0" x2="382.2" y2="391.0" stroke="#262626" stroke-width="1.2"/>
<line x1="400.4" y1="385.0" x2="400.4" y2="391.0" stroke="#262626" stroke-width="1.2"/>
<text x="424" y="389.5" font-size="9.3" text-anchor="start" fill="#0d0d0d" stroke="#0d0d0d" stroke-width="0.3" >4/5 rejected</text>
<polyline points="65.2,396.5 89.9,385.5 97.1,392.9 102.4,394.3 105.3,397.2 117.3,396.8 123.1,385.2" fill="none" stroke="#111" stroke-width="1.2" stroke-linejoin="round"/>
<polyline points="65.2,396.5 82.7,395.8 89.9,385.5 97.1,386.2 109.1,390.3 125.5,390.5 135.6,391.5 151.2,392.4 163.8,392.6 173,394.8 200,395.5 207.6,393.8 218.9,351.2 223.5,305" fill="none" stroke="#111" stroke-width="1.2" stroke-linejoin="round"/>
<polyline points="65.2,396.5 97.1,386.2 109.1,383.6 123.1,385.2 125.5,390.5 130.8,393.4 136.5,396.8" fill="none" stroke="#111" stroke-width="1.2" stroke-linejoin="round"/>
<polyline points="65.2,396.5 89.9,385.5 101.9,393.9 105.3,397.2" fill="none" stroke="#111" stroke-width="1.2" stroke-linejoin="round"/>
<polyline points="65.2,396.5 482.7,397" fill="none" stroke="#111" stroke-width="1.2" stroke-linejoin="round"/>
<circle cx="65.2" cy="396.5" r="1.95" fill="#000"/>
<circle cx="89.9" cy="385.5" r="1.9" fill="#d9312b"/>
<circle cx="97.1" cy="392.9" r="1.95" fill="#000"/>
<circle cx="102.4" cy="394.3" r="1.95" fill="#000"/>
<circle cx="105.3" cy="397.2" r="1.95" fill="#000"/>
<circle cx="117.3" cy="396.8" r="1.95" fill="#000"/>
<circle cx="123.1" cy="385.2" r="1.9" fill="#d9312b"/>
<circle cx="65.2" cy="396.5" r="1.95" fill="#000"/>
<circle cx="82.7" cy="395.8" r="1.95" fill="#000"/>
<circle cx="89.9" cy="385.5" r="1.9" fill="#d9312b"/>
<circle cx="97.1" cy="386.2" r="1.9" fill="#d9312b"/>
<circle cx="109.1" cy="390.3" r="1.95" fill="#000"/>
<circle cx="125.5" cy="390.5" r="1.95" fill="#000"/>
<circle cx="135.6" cy="391.5" r="1.95" fill="#000"/>
<circle cx="207.6" cy="393.8" r="1.95" fill="#000"/>
<circle cx="218.9" cy="351.2" r="1.95" fill="#000"/>
<circle cx="65.2" cy="396.5" r="1.95" fill="#000"/>
<circle cx="97.1" cy="386.2" r="1.9" fill="#d9312b"/>
<circle cx="109.1" cy="383.6" r="1.95" fill="#000"/>
<circle cx="123.1" cy="385.2" r="1.9" fill="#d9312b"/>
<circle cx="125.5" cy="390.5" r="1.95" fill="#000"/>
<circle cx="130.8" cy="393.4" r="1.95" fill="#000"/>
<circle cx="136.5" cy="396.8" r="1.95" fill="#000"/>
<circle cx="65.2" cy="396.5" r="1.95" fill="#000"/>
<circle cx="89.9" cy="385.5" r="1.9" fill="#d9312b"/>
<circle cx="101.9" cy="393.9" r="1.95" fill="#000"/>
<circle cx="105.3" cy="397.2" r="1.95" fill="#000"/>
<circle cx="136.2" cy="397" r="1.75" fill="#000"/>
<circle cx="139" cy="397" r="1.75" fill="#000"/>
<circle cx="141.9" cy="397" r="1.75" fill="#000"/>
<circle cx="144.8" cy="397" r="1.75" fill="#000"/>
<circle cx="146.5" cy="397" r="1.75" fill="#000"/>
<circle cx="149.4" cy="397" r="1.75" fill="#000"/>
<circle cx="151.2" cy="397" r="1.75" fill="#000"/>
<circle cx="156.3" cy="397" r="1.75" fill="#000"/>
<circle cx="158.7" cy="397" r="1.75" fill="#000"/>
<circle cx="160.6" cy="397" r="1.75" fill="#000"/>
<circle cx="162.7" cy="397" r="1.75" fill="#000"/>
<circle cx="164.4" cy="397" r="1.75" fill="#000"/>
<circle cx="169.6" cy="397" r="1.75" fill="#000"/>
<circle cx="171.3" cy="397" r="1.75" fill="#000"/>
<circle cx="173.7" cy="397" r="1.75" fill="#000"/>
<circle cx="176" cy="397" r="1.75" fill="#000"/>
<circle cx="178.3" cy="397" r="1.75" fill="#000"/>
<circle cx="180.6" cy="397" r="1.75" fill="#000"/>
<circle cx="182.9" cy="397" r="1.75" fill="#000"/>
<circle cx="185.8" cy="397" r="1.75" fill="#000"/>
<circle cx="188.1" cy="397" r="1.75" fill="#000"/>
<circle cx="190.4" cy="397" r="1.75" fill="#000"/>
<circle cx="193.8" cy="397" r="1.75" fill="#000"/>
<circle cx="196.2" cy="397" r="1.75" fill="#000"/>
<circle cx="198.6" cy="397" r="1.75" fill="#000"/>
<circle cx="201" cy="397" r="1.75" fill="#000"/>
<circle cx="207.5" cy="397" r="1.75" fill="#000"/>
<circle cx="209.2" cy="397" r="1.75" fill="#000"/>
<circle cx="215.5" cy="397" r="1.75" fill="#000"/>
<circle cx="218.7" cy="397" r="1.75" fill="#000"/>
<circle cx="221.8" cy="397" r="1.75" fill="#000"/>
<circle cx="224.8" cy="397" r="1.75" fill="#000"/>
<circle cx="231.5" cy="397" r="1.75" fill="#000"/>
<circle cx="233.2" cy="397" r="1.75" fill="#000"/>
<circle cx="240" cy="397" r="1.75" fill="#000"/>
<circle cx="243.5" cy="397" r="1.75" fill="#000"/>
<circle cx="245.8" cy="397" r="1.75" fill="#000"/>
<circle cx="252" cy="397" r="1.75" fill="#000"/>
<circle cx="254.5" cy="397" r="1.75" fill="#000"/>
<circle cx="257.3" cy="397" r="1.75" fill="#000"/>
<circle cx="265" cy="397" r="1.75" fill="#000"/>
<circle cx="267.3" cy="397" r="1.75" fill="#000"/>
<circle cx="269.6" cy="397" r="1.75" fill="#000"/>
<circle cx="278.1" cy="397" r="1.75" fill="#000"/>
<circle cx="279.6" cy="397" r="1.75" fill="#000"/>
<circle cx="286.5" cy="397" r="1.75" fill="#000"/>
<circle cx="291.2" cy="397" r="1.75" fill="#000"/>
<circle cx="298.8" cy="397" r="1.75" fill="#000"/>
<circle cx="304.2" cy="397" r="1.75" fill="#000"/>
<circle cx="311.2" cy="397" r="1.75" fill="#000"/>
<circle cx="316.5" cy="397" r="1.75" fill="#000"/>
<circle cx="323.5" cy="397" r="1.75" fill="#000"/>
<circle cx="328.1" cy="397" r="1.75" fill="#000"/>
<circle cx="333.5" cy="397" r="1.75" fill="#000"/>
<circle cx="335.8" cy="397" r="2.1" fill="#000"/>
<circle cx="341.4" cy="397" r="2.1" fill="#000"/>
<circle cx="348.3" cy="397" r="2.1" fill="#000"/>
<circle cx="353.5" cy="397" r="2.1" fill="#000"/>
<circle cx="360.6" cy="397" r="2.1" fill="#000"/>
<circle cx="365.8" cy="397" r="2.1" fill="#000"/>
<circle cx="373" cy="397" r="2.1" fill="#000"/>
<circle cx="385.4" cy="397" r="2.1" fill="#000"/>
<circle cx="388.8" cy="397" r="2.1" fill="#000"/>
<circle cx="413.6" cy="397" r="2.1" fill="#000"/>
<circle cx="429.5" cy="397" r="2.1" fill="#000"/>
<circle cx="442.2" cy="397" r="2.1" fill="#000"/>
<circle cx="482.7" cy="397" r="2.1" fill="#000"/>
<circle cx="163.8" cy="392.6" r="1.6" fill="#000"/>
<text x="192.3" y="428.1" font-size="10.6" text-anchor="start" fill="#0d0d0d" stroke="#0d0d0d" stroke-width="0.3" >Days postcancer cell inoculation</text>
<polyline points="92.6,447.5 89.4,447.5 89.4,570.7 435.8,570.7" fill="none" stroke="#262626" stroke-width="1.2"/>
<text x="85.5" y="453.3" font-size="11.5" text-anchor="end" fill="#0d0d0d" stroke="#0d0d0d" stroke-width="0.3" >80</text>
<line x1="89.4" y1="509.5" x2="92.6" y2="509.5" stroke="#262626" stroke-width="1.1"/>
<text x="85.5" y="512.2" font-size="11.5" text-anchor="end" fill="#0d0d0d" stroke="#0d0d0d" stroke-width="0.3" >40</text>
<text x="85.5" y="572.8" font-size="11.5" text-anchor="end" fill="#0d0d0d" stroke="#0d0d0d" stroke-width="0.3" >0</text>
<text transform="translate(62.6,581.7) rotate(-90)" font-size="10" fill="#0d0d0d">SIINF-specific CD8<tspan font-size="6.5" dy="-3.5">+</tspan><tspan dy="3.5"> T cells, %</tspan></text>
<text x="109.64" y="582.5" font-size="10" fill="#0d0d0d" stroke="#0d0d0d" stroke-width="0.3" xml:space="preserve">A1-R SIINF</text>
<path transform="translate(191.43,582.5) scale(10)" d="M0.5385,-0.52 C0.4863,-0.22 0.3993,0.012 0.2427,0.012 C0.1209,0.012 0.06,-0.11 0.06,-0.25 C0.06,-0.4 0.1383,-0.525 0.2601,-0.525 C0.3993,-0.525 0.4428,-0.3 0.4863,-0.1 C0.5037,-0.03 0.5298,0.005 0.5733,0.005" fill="none" stroke="#0d0d0d" stroke-width="0.105"/>
<text x="197.73" y="582.5" font-size="10" fill="#0d0d0d" stroke="#0d0d0d" stroke-width="0.3" xml:space="preserve">PD-L1</text>
<text x="185.56" y="594.6" font-size="10" fill="#0d0d0d" stroke="#0d0d0d" stroke-width="0.3" xml:space="preserve">+ </text>
<path transform="translate(194.48,594.6) scale(10)" d="M0.5385,-0.52 C0.4863,-0.22 0.3993,0.012 0.2427,0.012 C0.1209,0.012 0.06,-0.11 0.06,-0.25 C0.06,-0.4 0.1383,-0.525 0.2601,-0.525 C0.3993,-0.525 0.4428,-0.3 0.4863,-0.1 C0.5037,-0.03 0.5298,0.005 0.5733,0.005" fill="none" stroke="#0d0d0d" stroke-width="0.105"/>
<text x="200.78" y="594.6" font-size="10" fill="#0d0d0d" stroke="#0d0d0d" stroke-width="0.3" xml:space="preserve">CTLA-4</text>
<text x="247.64" y="582.5" font-size="10" fill="#0d0d0d" stroke="#0d0d0d" stroke-width="0.3" xml:space="preserve">A1-R SIINF</text>
<text x="250.16" y="594.6" font-size="10" fill="#0d0d0d" stroke="#0d0d0d" stroke-width="0.3" xml:space="preserve">+ </text>
<path transform="translate(259.08,594.6) scale(10)" d="M0.5385,-0.52 C0.4863,-0.22 0.3993,0.012 0.2427,0.012 C0.1209,0.012 0.06,-0.11 0.06,-0.25 C0.06,-0.4 0.1383,-0.525 0.2601,-0.525 C0.3993,-0.525 0.4428,-0.3 0.4863,-0.1 C0.5037,-0.03 0.5298,0.005 0.5733,0.005" fill="none" stroke="#0d0d0d" stroke-width="0.105"/>
<text x="265.38" y="594.6" font-size="10" fill="#0d0d0d" stroke="#0d0d0d" stroke-width="0.3" xml:space="preserve">CTLA-4</text>
<text x="311.44" y="582.5" font-size="10" fill="#0d0d0d" stroke="#0d0d0d" stroke-width="0.3" xml:space="preserve">A1-R SIINF</text>
<text x="317.02" y="594.6" font-size="10" fill="#0d0d0d" stroke="#0d0d0d" stroke-width="0.3" xml:space="preserve">+ </text>
<path transform="translate(325.94,594.6) scale(10)" d="M0.5385,-0.52 C0.4863,-0.22 0.3993,0.012 0.2427,0.012 C0.1209,0.012 0.06,-0.11 0.06,-0.25 C0.06,-0.4 0.1383,-0.525 0.2601,-0.525 C0.3993,-0.525 0.4428,-0.3 0.4863,-0.1 C0.5037,-0.03 0.5298,0.005 0.5733,0.005" fill="none" stroke="#0d0d0d" stroke-width="0.105"/>
<text x="332.24" y="594.6" font-size="10" fill="#0d0d0d" stroke="#0d0d0d" stroke-width="0.3" xml:space="preserve">PD-L1</text>
<text x="389.14" y="582.5" font-size="10" fill="#0d0d0d" stroke="#0d0d0d" stroke-width="0.3" xml:space="preserve">A1-R SIINF</text>
<text x="391.66" y="594.6" font-size="10" fill="#0d0d0d" stroke="#0d0d0d" stroke-width="0.3" xml:space="preserve">+ </text>
<path transform="translate(400.58,594.6) scale(10)" d="M0.5385,-0.52 C0.4863,-0.22 0.3993,0.012 0.2427,0.012 C0.1209,0.012 0.06,-0.11 0.06,-0.25 C0.06,-0.4 0.1383,-0.525 0.2601,-0.525 C0.3993,-0.525 0.4428,-0.3 0.4863,-0.1 C0.5037,-0.03 0.5298,0.005 0.5733,0.005" fill="none" stroke="#0d0d0d" stroke-width="0.105"/>
<text x="406.88" y="594.6" font-size="10" fill="#0d0d0d" stroke="#0d0d0d" stroke-width="0.3" xml:space="preserve">CTLA-4</text>
<text x="394.72" y="606.7" font-size="10" fill="#0d0d0d" stroke="#0d0d0d" stroke-width="0.3" xml:space="preserve">+ </text>
<path transform="translate(403.64,606.7) scale(10)" d="M0.5385,-0.52 C0.4863,-0.22 0.3993,0.012 0.2427,0.012 C0.1209,0.012 0.06,-0.11 0.06,-0.25 C0.06,-0.4 0.1383,-0.525 0.2601,-0.525 C0.3993,-0.525 0.4428,-0.3 0.4863,-0.1 C0.5037,-0.03 0.5298,0.005 0.5733,0.005" fill="none" stroke="#0d0d0d" stroke-width="0.105"/>
<text x="409.94" y="606.7" font-size="10" fill="#0d0d0d" stroke="#0d0d0d" stroke-width="0.3" xml:space="preserve">PD-L1</text>
<rect x="141.10000000000002" y="495.6" width="5.4" height="5.4" fill="#000"/>
<rect x="141.10000000000002" y="511.8" width="5.4" height="5.4" fill="#000"/>
<rect x="141.10000000000002" y="535.0999999999999" width="5.4" height="5.4" fill="#000"/>
<rect x="331.40000000000003" y="472.5" width="5.4" height="5.4" fill="#000"/>
<rect x="329.1" y="501.8" width="5.4" height="5.4" fill="#000"/>
<rect x="334.5" y="504.5" width="5.4" height="5.4" fill="#000"/>
<rect x="339.2" y="510.8" width="5.4" height="5.4" fill="#000"/>
<rect x="408.5" y="487.6" width="5.4" height="5.4" fill="#000"/>
<rect x="405.7" y="508.3" width="5.4" height="5.4" fill="#000"/>
<rect x="411.1" y="509.3" width="5.4" height="5.4" fill="#000"/>
<circle cx="126.3" cy="548" r="2.45" fill="#fff" stroke="#111" stroke-width="1.0"/>
<circle cx="123.8" cy="552.8" r="2.45" fill="#fff" stroke="#111" stroke-width="1.0"/>
<circle cx="131.4" cy="553.4" r="2.45" fill="#fff" stroke="#111" stroke-width="1.0"/>
<circle cx="126.6" cy="558.6" r="2.45" fill="#fff" stroke="#111" stroke-width="1.0"/>
<circle cx="206.4" cy="568.8" r="2.45" fill="#fff" stroke="#111" stroke-width="1.0"/>
<circle cx="210.8" cy="566.8" r="2.45" fill="#fff" stroke="#111" stroke-width="1.0"/>
<circle cx="214.9" cy="567.8" r="2.45" fill="#fff" stroke="#111" stroke-width="1.0"/>
<circle cx="269.8" cy="542.7" r="2.45" fill="#fff" stroke="#111" stroke-width="1.0"/>
<circle cx="274.2" cy="540.6" r="2.45" fill="#fff" stroke="#111" stroke-width="1.0"/>
<circle cx="277.9" cy="545" r="2.45" fill="#fff" stroke="#111" stroke-width="1.0"/>
<circle cx="273.8" cy="553.7" r="2.45" fill="#fff" stroke="#111" stroke-width="1.0"/>
<circle cx="331.8" cy="516.3" r="2.45" fill="#fff" stroke="#111" stroke-width="1.0"/>
<circle cx="411.2" cy="525.8" r="2.45" fill="#fff" stroke="#111" stroke-width="1.0"/>
<polyline points="142.1,463.5 142.1,457.2 405.5,457.2 405.5,463" fill="none" stroke="#34905f" stroke-width="1.1"/>
<polyline points="142.1,472.5 142.1,465.2 332.8,465.2 332.8,470.3" fill="none" stroke="#34905f" stroke-width="1.1"/>
<polyline points="125.4,482.5 125.4,477.1 142.3,477.1 142.3,482.5" fill="none" stroke="#34905f" stroke-width="1.1"/>
<text x="106.8" y="472.7" font-size="9" fill="#34905f"><tspan font-style="italic">P</tspan> &lt; 0.01</text>
<text x="281" y="455.3" font-size="9" text-anchor="middle" fill="#5a7d6c" stroke="#5a7d6c" stroke-width="0.3" >n.s.</text>
<text x="242.3" y="463.5" font-size="9" text-anchor="middle" fill="#5a7d6c" stroke="#5a7d6c" stroke-width="0.3" >n.s.</text>
<rect x="431.4" y="489.4" width="64.90000000000003" height="32.0" fill="none" stroke="#262626" stroke-width="1.1"/>
<rect x="438.4" y="493.4" width="9.6" height="9.6" fill="#000"/>
<circle cx="443" cy="513.6" r="4.4" fill="#fff" stroke="#222" stroke-width="1"/>
<text x="451.2" y="501.8" font-size="10" text-anchor="start" fill="#0d0d0d" stroke="#0d0d0d" stroke-width="0.3" >Rejected</text>
<text x="451.2" y="517.1" font-size="10" text-anchor="start" fill="#0d0d0d" stroke="#0d0d0d" stroke-width="0.3" >Relapsed</text>
<rect x="0" y="0" width="520" height="1" fill="#727272"/>
<rect x="0" y="1" width="520" height="1" fill="#c8c8c8"/>
<rect x="0" y="0" width="1" height="628" fill="#727272"/>
<rect x="1" y="0" width="1" height="628" fill="#b0b0b0"/>
<rect x="518" y="0" width="2" height="628" fill="#8a8a8a"/>
<rect x="0" y="626" width="520" height="2" fill="#808080"/>
</svg>
</body></html>
